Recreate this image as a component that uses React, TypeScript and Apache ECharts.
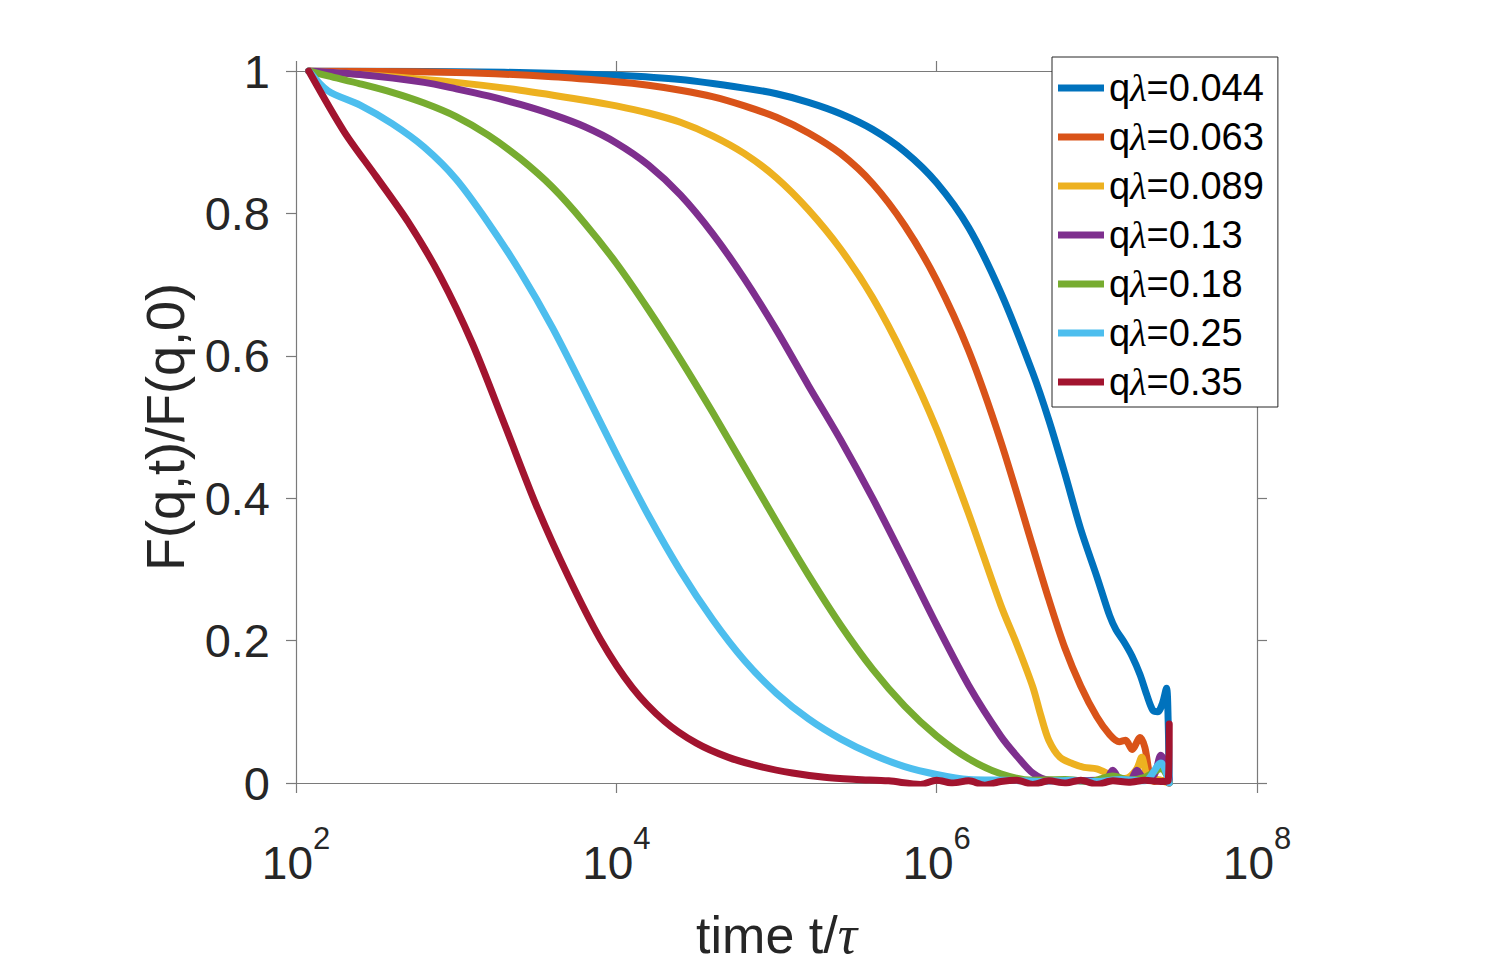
import React, { useEffect, useRef } from "react";
import * as echarts from "echarts";

// Normalised intermediate scattering function F(q,t)/F(q,0) vs time (log10 of t/τ)
const seriesNames = [
  "qλ=0.044",
  "qλ=0.063",
  "qλ=0.089",
  "qλ=0.13",
  "qλ=0.18",
  "qλ=0.25",
  "qλ=0.35",
];

const colors = ["#0072BD", "#D95319", "#EDB120", "#7E2F8E", "#77AC30", "#4DBEEE", "#A2142F"];

// log10(t/τ) sample positions and values for each q
const logT044 = [2.08, 3.0, 3.6, 4.0, 4.4, 4.8, 5.0, 5.2, 5.4, 5.6, 5.8, 6.0, 6.2, 6.4, 6.6, 6.7, 6.8, 6.9, 7.0, 7.08, 7.12, 7.17, 7.22, 7.27, 7.31, 7.35, 7.38, 7.41, 7.435, 7.445, 7.452];
const val044 = [1.0, 0.999, 0.997, 0.994, 0.988, 0.976, 0.968, 0.956, 0.94, 0.918, 0.887, 0.843, 0.78, 0.689, 0.576, 0.51, 0.435, 0.356, 0.29, 0.235, 0.215, 0.198, 0.178, 0.152, 0.125, 0.102, 0.1, 0.112, 0.133, 0.09, 0.0];

const logT063 = [2.08, 3.0, 3.6, 4.0, 4.2, 4.4, 4.6, 4.8, 5.0, 5.2, 5.4, 5.6, 5.8, 6.0, 6.2, 6.4, 6.6, 6.7, 6.8, 6.9, 7.0, 7.08, 7.14, 7.18, 7.22, 7.27, 7.3, 7.33, 7.36, 7.4, 7.44, 7.452];
const val063 = [1.0, 0.998, 0.992, 0.985, 0.98, 0.973, 0.964, 0.951, 0.935, 0.913, 0.884, 0.842, 0.783, 0.706, 0.607, 0.48, 0.332, 0.258, 0.19, 0.136, 0.093, 0.068, 0.058, 0.06, 0.047, 0.064, 0.05, 0.012, 0.002, 0.004, 0.002, 0.0];

const logT089 = [2.08, 2.6, 3.0, 3.4, 3.8, 4.0, 4.2, 4.4, 4.6, 4.8, 5.0, 5.2, 5.4, 5.6, 5.8, 6.0, 6.2, 6.4, 6.5, 6.6, 6.65, 6.7, 6.77, 6.85, 6.92, 7.0, 7.08, 7.14, 7.2, 7.25, 7.28, 7.31, 7.34, 7.38, 7.42, 7.452];
const val089 = [1.0, 0.992, 0.984, 0.973, 0.959, 0.951, 0.941, 0.928, 0.909, 0.884, 0.85, 0.805, 0.75, 0.682, 0.597, 0.497, 0.378, 0.25, 0.195, 0.135, 0.095, 0.06, 0.036, 0.027, 0.022, 0.02, 0.012, 0.006, 0.008, 0.02, 0.036, 0.012, 0.003, 0.005, 0.002, 0.0];

const logT13 = [2.08, 2.4, 2.8, 3.0, 3.2, 3.4, 3.6, 3.8, 4.0, 4.2, 4.4, 4.6, 4.8, 5.0, 5.2, 5.4, 5.6, 5.8, 6.0, 6.2, 6.4, 6.5, 6.6, 6.7, 6.85, 7.0, 7.05, 7.1, 7.15, 7.21, 7.25, 7.3, 7.36, 7.4, 7.44, 7.452];
const val13 = [1.0, 0.995, 0.984, 0.975, 0.965, 0.953, 0.939, 0.922, 0.899, 0.868, 0.826, 0.772, 0.708, 0.636, 0.558, 0.482, 0.4, 0.312, 0.222, 0.137, 0.066, 0.038, 0.014, 0.004, 0.003, 0.004, 0.002, 0.018, 0.003, 0.004, 0.018, 0.004, 0.012, 0.039, 0.02, 0.0];

const logT18 = [2.08, 2.2, 2.4, 2.6, 2.8, 3.0, 3.2, 3.4, 3.6, 3.8, 4.0, 4.2, 4.4, 4.6, 4.8, 5.0, 5.2, 5.4, 5.6, 5.8, 6.0, 6.2, 6.4, 6.6, 6.8, 6.95, 7.1, 7.2, 7.3, 7.4, 7.44, 7.452];
const val18 = [1.0, 0.993, 0.982, 0.97, 0.955, 0.936, 0.91, 0.877, 0.837, 0.787, 0.73, 0.665, 0.595, 0.521, 0.444, 0.367, 0.292, 0.222, 0.16, 0.108, 0.066, 0.034, 0.013, 0.004, 0.005, 0.002, 0.01, 0.004, 0.008, 0.02, 0.01, 0.0];

const logT25 = [2.08, 2.2, 2.4, 2.6, 2.8, 3.0, 3.2, 3.4, 3.6, 3.8, 4.0, 4.2, 4.4, 4.6, 4.8, 5.0, 5.2, 5.4, 5.6, 5.8, 6.0, 6.2, 6.45, 6.65, 6.85, 7.0, 7.15, 7.3, 7.4, 7.44, 7.452];
const val25 = [1.0, 0.972, 0.952, 0.926, 0.893, 0.848, 0.787, 0.718, 0.64, 0.552, 0.462, 0.376, 0.298, 0.23, 0.172, 0.126, 0.09, 0.062, 0.04, 0.023, 0.012, 0.005, 0.004, 0.002, 0.004, 0.002, 0.005, 0.003, 0.028, 0.01, 0.0];

const logT35 = [2.08, 2.3, 2.5, 2.7, 2.9, 3.1, 3.3, 3.5, 3.7, 3.9, 4.1, 4.3, 4.5, 4.7, 4.9, 5.1, 5.3, 5.5, 5.7, 5.9, 6.0, 6.1, 6.2, 6.3, 6.4, 6.5, 6.6, 6.7, 6.8, 6.9, 7.0, 7.1, 7.2, 7.3, 7.4, 7.445, 7.452];
const val35 = [1.0, 0.915, 0.852, 0.788, 0.712, 0.618, 0.505, 0.39, 0.29, 0.202, 0.134, 0.087, 0.056, 0.036, 0.023, 0.014, 0.008, 0.005, 0.003, -0.002, 0.004, 0.0, 0.003, -0.003, 0.002, 0.004, -0.002, 0.003, 0.0, 0.004, -0.002, 0.003, 0.001, 0.004, 0.002, 0.003, 0.083];

const logTimes = [logT044, logT063, logT089, logT13, logT18, logT25, logT35];
const values = [val044, val063, val089, val13, val18, val25, val35];

const yTicks = [0, 0.2, 0.4, 0.6, 0.8, 1];

const FONT = "Liberation Sans";
const TEXT = "#262626";
const AXIS = "#7a7a7a";

export default function App() {
  const ref = useRef<HTMLDivElement>(null);

  useEffect(() => {
    if (!ref.current) return;
    const chart = echarts.init(ref.current, undefined, { renderer: "svg" });

    const series = seriesNames.map((name, i) => ({
      name,
      type: "line",
      data: logTimes[i].map((lt, j) => [Math.pow(10, lt), values[i][j]]),
      showSymbol: false,
      symbol: "none",
      smooth: 0.3,
      lineStyle: { width: 7, color: colors[i], join: "round", cap: "round" },
      itemStyle: { color: colors[i] },
      z: 2 + i,
    }));

    const axisCommon = {
      axisLine: { show: true, onZero: false, lineStyle: { color: AXIS, width: 1.2 } },
      axisTick: { show: true, inside: false, length: 10, lineStyle: { color: AXIS, width: 1.2 } },
      splitLine: { show: false },
      minorTick: { show: false },
    };

    chart.setOption({
      animation: false,
      backgroundColor: "#ffffff",
      textStyle: { fontFamily: FONT },
      grid: { left: 296, top: 71, right: 246, bottom: 174, containLabel: false },
      legend: {
        orient: "vertical",
        left: 1052,
        top: 57,
        padding: [11, 14, 5, 6],
        itemWidth: 46,
        itemHeight: 7,
        itemGap: 9,
        icon: "rect",
        backgroundColor: "#ffffff",
        borderColor: "#262626",
        borderWidth: 1,
        borderRadius: 0,
        data: seriesNames,
        formatter: (n: string) => n.replace("λ", "{l|λ}"),
        textStyle: {
          fontFamily: FONT,
          fontSize: 38,
          color: "#000000",
          lineHeight: 40,
          rich: {
            l: { fontFamily: "Liberation Serif", fontStyle: "italic", fontSize: 38, lineHeight: 40, color: "#000000" },
          },
        },
      },
      xAxis: [
        {
          type: "log",
          logBase: 10,
          min: 100,
          max: 1e8,
          interval: 2,
          splitNumber: 3,
          position: "bottom",
          ...axisCommon,
          axisLabel: {
            margin: 33,
            color: TEXT,
            formatter: (v: number) => `{b|10}{e|${Math.round(Math.log10(v))}}`,
            rich: {
              b: { fontFamily: FONT, fontSize: 46, color: TEXT, lineHeight: 70, verticalAlign: "bottom" },
              e: { fontFamily: FONT, fontSize: 31, color: TEXT, lineHeight: 30, verticalAlign: "top", padding: [7, 0, 0, 0] },
            },
          },
          name: "time t/{t|τ}",
          nameLocation: "middle",
          nameGap: 125,
          nameTextStyle: {
            fontFamily: FONT,
            fontSize: 52,
            color: TEXT,
            rich: {
              t: { fontFamily: "Liberation Serif", fontStyle: "italic", fontSize: 54, color: TEXT },
            },
          },
        },
        {
          type: "log",
          logBase: 10,
          min: 100,
          max: 1e8,
          interval: 2,
          splitNumber: 3,
          position: "top",
          ...axisCommon,
          axisLabel: { show: false },
        },
      ],
      yAxis: [
        {
          type: "value",
          min: 0,
          max: 1,
          interval: 0.2,
          position: "left",
          ...axisCommon,
          axisLabel: {
            margin: 26,
            color: TEXT,
            fontFamily: FONT,
            fontSize: 47,
            formatter: (v: number) => {
              const t = yTicks.find((k) => Math.abs(k - v) < 1e-9);
              return t === undefined ? "" : String(Number(t.toFixed(1)));
            },
          },
          name: "F(q,t)/F(q,0)",
          nameLocation: "middle",
          nameGap: 104,
          nameRotate: 90,
          nameTextStyle: { fontFamily: FONT, fontSize: 54, color: TEXT },
        },
        {
          type: "value",
          min: 0,
          max: 1,
          interval: 0.2,
          position: "right",
          ...axisCommon,
          axisLabel: { show: false },
        },
      ],
      series,
    });

    return () => chart.dispose();
  }, []);

  return (
    <div
      ref={ref}
      style={{ position: "absolute", left: 0, top: 0, width: 1503, height: 967, background: "#fff" }}
    />
  );
}
